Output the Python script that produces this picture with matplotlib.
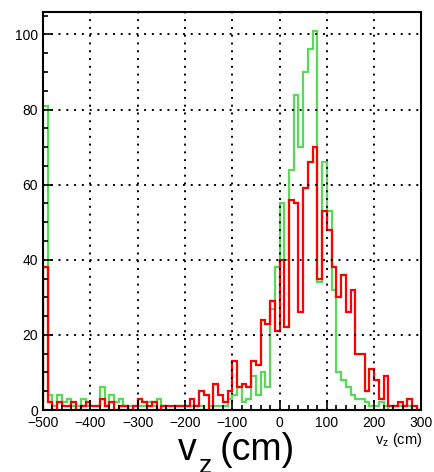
"""Vertex z distribution, two samples, ROOT-like style."""
import matplotlib
matplotlib.use("Agg")
import matplotlib.pyplot as plt
from matplotlib.ticker import MultipleLocator
import numpy as np

plt.rcParams["font.family"] = ["Liberation Sans", "DejaVu Sans"]
plt.rcParams["mathtext.fontset"] = "custom"
plt.rcParams["mathtext.rm"] = "Liberation Sans"
plt.rcParams["mathtext.it"] = "Liberation Sans"

# 80 bins of 10 cm from -500 to 300
X_MIN, X_MAX, N_BINS = -500, 300, 80

green_counts = [
    81, 4, 1, 4, 2, 3, 1, 1, 3, 1,
    1, 1, 6, 1, 4, 2, 3, 1, 1, 1,
    1, 1, 2, 1, 3, 1, 0, 0, 1, 1,
    1, 1, 1, 1, 0, 1, 1, 1, 1, 3,
    4, 6, 2, 3, 9, 4, 10, 6, 27, 38,
    55, 40, 64, 84, 70, 90, 96, 101, 34, 66,
    53, 32, 10, 8, 6, 4, 3, 3, 2, 1,
    1, 2, 1, 0, 1, 1, 1, 1, 0, 0,
]
red_counts = [
    38, 2, 0, 2, 1, 1, 2, 0, 1, 2,
    1, 1, 3, 1, 2, 0, 1, 1, 0, 1,
    3, 2, 1, 2, 0, 1, 1, 1, 1, 1,
    1, 3, 1, 5, 4, 0, 7, 4, 2, 5,
    13, 6, 7, 6, 13, 12, 24, 23, 29, 21,
    40, 22, 56, 55, 26, 59, 66, 70, 35, 53,
    48, 38, 30, 36, 26, 32, 15, 15, 5, 11,
    8, 3, 9, 1, 1, 2, 1, 3, 1, 0,
]

edges = np.linspace(X_MIN, X_MAX, N_BINS + 1)

fig = plt.figure(figsize=(4.35, 4.72), dpi=100)
ax = fig.add_axes([43 / 435, 1 - 410 / 472, (421.5 - 43) / 435, (410 - 11.7) / 472])

ax.stairs(green_counts, edges, color="#5ad85a", linewidth=1.6)
ax.stairs(red_counts, edges, color="#ff0000", linewidth=1.6)

ax.set_xlim(X_MIN, X_MAX)
ax.set_ylim(0, 1.05 * max(max(green_counts), max(red_counts)))

ax.xaxis.set_major_locator(MultipleLocator(100))
ax.xaxis.set_minor_locator(MultipleLocator(20))
ax.yaxis.set_major_locator(MultipleLocator(20))
ax.yaxis.set_minor_locator(MultipleLocator(5))
ax.tick_params(which="both", direction="in", top=False, right=False,
               width=1.2, labelsize=10, colors="black")
ax.tick_params(which="major", length=7)
ax.tick_params(axis="x", which="major", pad=4)
ax.tick_params(which="minor", length=3.5)

ax.set_axisbelow(False)
ax.grid(which="major", color="black", linestyle=(0, (1, 3)), linewidth=1.4)
for sp in ax.spines.values():
    sp.set_linewidth(1.5)

# small axis title under the tick labels
fig.text(0.970, 0.060, r"v$_{\mathrm{z}}$ (cm)", fontsize=10.5, ha="right", va="baseline")

# large axis title, subscript drawn by hand so it sits low like ROOT's
fig.text(178 / 435, 1 - 460 / 472, "v", fontsize=27, ha="left", va="baseline")
fig.text(199 / 435, 1 - 473 / 472, "z", fontsize=19, ha="left", va="baseline")
fig.text(220 / 435, 1 - 460 / 472, "(cm)", fontsize=27, ha="left", va="baseline")

fig.savefig("out.png", dpi=100)
